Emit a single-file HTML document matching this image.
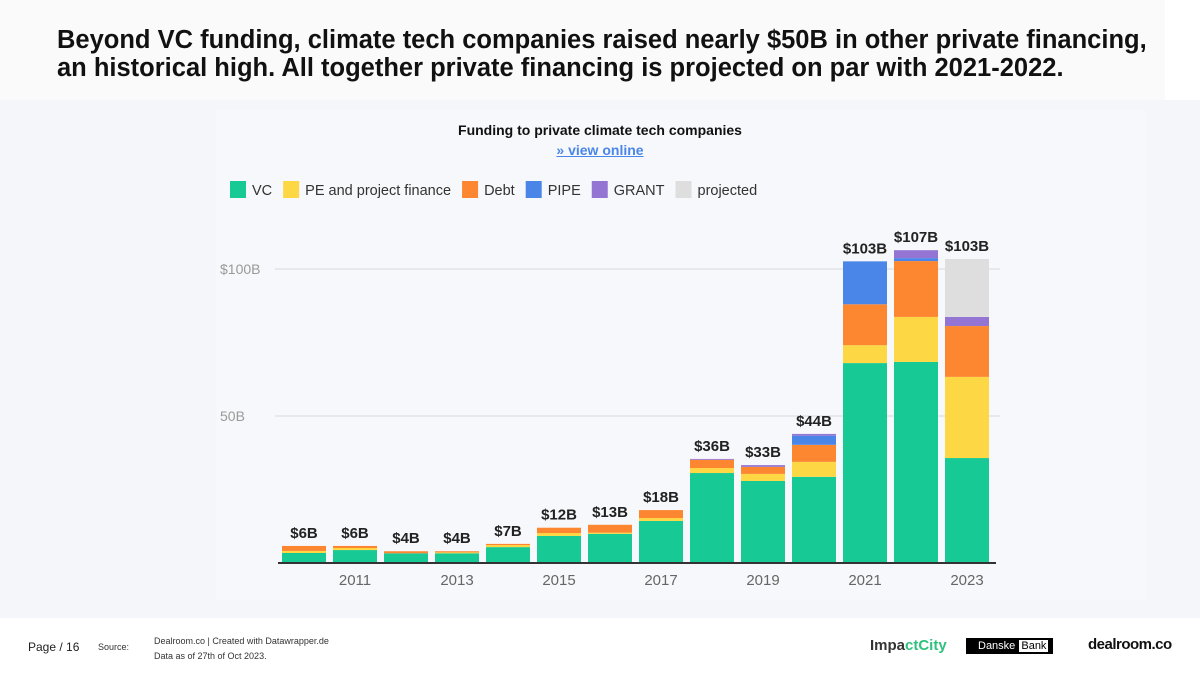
<!DOCTYPE html>
<html><head><meta charset="utf-8"><style>
*{margin:0;padding:0;box-sizing:border-box}
body{width:1200px;height:675px;background:#fff;font-family:"Liberation Sans",sans-serif;position:relative;overflow:hidden}
#page-bg{position:absolute;left:0;top:100px;width:1200px;height:518px;background:#f5f6fa}
#title-band{position:absolute;left:0;top:0;width:1165px;height:100px;background:#fafafa}
h1{position:absolute;left:57px;top:26px;font-size:25.5px;line-height:28px;font-weight:bold;color:#111}
#chart-panel{position:absolute;left:216px;top:110px;width:930px;height:490px;background:#f7f8fb}
.t{position:absolute;white-space:nowrap}
</style></head><body>
<div id="page-bg"></div>
<div id="title-band"></div>
<h1>Beyond VC funding, climate tech companies raised nearly $50B in other private financing,<br>an historical high. All together private financing is projected on par with 2021-2022.</h1>
<div id="chart-panel"></div>
<svg id="chart" width="1200" height="675" style="position:absolute;left:0;top:0"></svg>
<div class="t" style="left:0;width:1200px;text-align:center;top:122px;font-size:14px;font-weight:bold;color:#111">Funding to private climate tech companies</div>
<div class="t" style="left:0;width:1200px;text-align:center;top:142px;font-size:14px;font-weight:bold;color:#4a86e8;text-decoration:underline">» view online</div>
<div class="t" style="left:28px;top:640px;font-size:12px;color:#222">Page / 16</div>
<div class="t" style="left:98px;top:642px;font-size:9px;color:#333">Source:</div>
<div class="t" style="left:154px;top:634px;font-size:9px;line-height:15px;color:#333">Dealroom.co | Created with Datawrapper.de<br>Data as of 27th of Oct 2023.</div>
<div class="t" style="left:870px;top:637px;font-size:15px;font-weight:bold;color:#333">Impa<span style="color:#2ec27e">ctCity</span></div>
<div class="t" style="left:966px;top:638px;font-size:11px;background:#000;color:#fff;padding:2px 4px 2px 12px">Danske <span style="background:#fff;color:#000;border:1px solid #000;padding:0 2px">Bank</span></div>
<div class="t" style="left:1088px;top:636px;font-size:15px;font-weight:bold;color:#111;letter-spacing:-0.5px">dealroom.co</div>
<script>
const years=[2010,2011,2012,2013,2014,2015,2016,2017,2018,2019,2020,2021,2022,2023];
const vc=[3.4,4.4,3.3,3.3,5.4,9.2,9.9,14.3,30.6,27.9,29.3,68,68.4,35.7];
const pe=[0.7,0.7,0,0.3,0.7,1,0.4,1,1.7,2.4,5.1,6.1,15.3,27.6];
const debt=[1.7,0.7,0.7,0.4,0.4,1.8,2.7,2.7,2.8,2.4,5.8,13.9,19,17.3];
const pipe=[0,0,0,0,0,0,0,0,0,0,3.1,14.6,1,0];
const grant=[0,0,0,0,0,0,0,0,0.3,0.6,0.6,0,2.7,3.1];
const projected=[0,0,0,0,0,0,0,0,0,0,0,0,0,19.7];
const totalLabels=["$6B","$6B","$4B","$4B","$7B","$12B","$13B","$18B","$36B","$33B","$44B","$103B","$107B","$103B"];
const yTicks=[50,100];
const yTickLabels=["50B","$100B"];
const xTickYears=[2011,2013,2015,2017,2019,2021,2023];
const seriesNames=["VC","PE and project finance","Debt","PIPE","GRANT","projected"];
const colors=["#16c995","#fdd744","#fd8731","#4a86e8","#9575d4","#dedede"];

const svg=document.getElementById('chart');
const NS='http://www.w3.org/2000/svg';
const y0=563,pxPerB=2.94;
const yScale=v=>y0-v*pxPerB;
const xScale=yr=>304+(yr-2010)*51;
const bw=44;
function mk(tag,attrs){const e=document.createElementNS(NS,tag);for(const k in attrs)e.setAttribute(k,attrs[k]);svg.appendChild(e);return e;}

yTicks.forEach((t,i)=>{
  const l=mk('line',{x1:275,x2:1000,y1:yScale(t),y2:yScale(t),stroke:'#d8d8d8','stroke-width':1});
  
  
  const tx=mk('text',{x:220,y:yScale(t)+5,'font-size':14,fill:'#999','font-family':'Liberation Sans'});
  tx.textContent=yTickLabels[i];
  
  
});

const series=[vc,pe,debt,pipe,grant,projected];
years.forEach((yr,i)=>{
  let acc=0;
  series.forEach((s,j)=>{
    const v=s[i];if(!v)return;
    const r=mk('rect',{x:xScale(yr)-bw/2,y:yScale(acc+v),width:bw,height:v*pxPerB,fill:colors[j]});
    
    
    acc+=v;
  });
  const t=mk('text',{x:xScale(yr),y:yScale(acc)-8,'text-anchor':'middle','font-size':15,'font-weight':'bold',fill:'#222','font-family':'Liberation Sans'});
  t.textContent=totalLabels[i];
  
  
});

const ax=mk('line',{x1:278,x2:996,y1:y0,y2:y0,stroke:'#333','stroke-width':2});


xTickYears.forEach(yr=>{
  const t=mk('text',{x:xScale(yr),y:585,'text-anchor':'middle','font-size':15,fill:'#666','font-family':'Liberation Sans'});
  t.textContent=yr;
  
  
});

let lx=230;
seriesNames.forEach((n,j)=>{
  const r=mk('rect',{x:lx,y:181,width:16,height:17,fill:colors[j]});
  
  
  const t=mk('text',{x:lx+22,y:195,'font-size':14.5,fill:'#333','font-family':'Liberation Sans'});
  t.textContent=n;
  
  
  lx+=22+t.getComputedTextLength()+11;
});
</script>
</body></html>
